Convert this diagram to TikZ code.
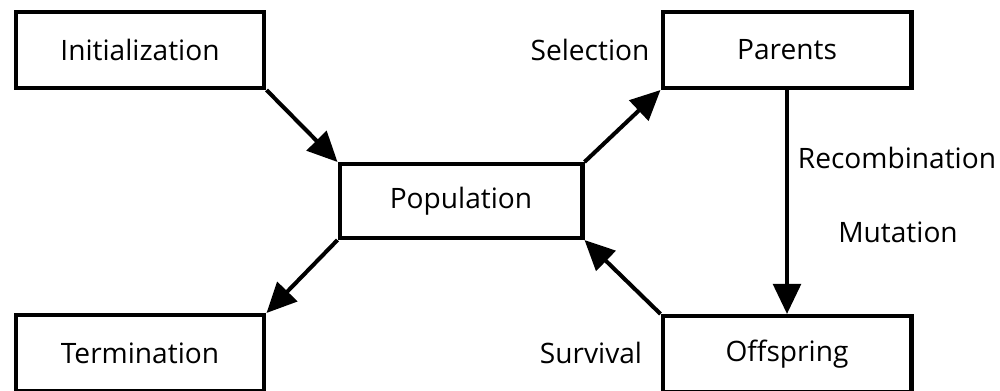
\documentclass[tikz,border=0pt]{standalone}
\usepackage{fontspec}
\setmainfont{Open Sans}
\usetikzlibrary{arrows.meta}

\begin{document}
\begin{tikzpicture}[x=0.02cm,y=-0.02cm,
        stage/.style={draw,line width=2.3pt,minimum width=4.98cm,minimum height=1.52cm,font=\fontsize{16}{19}\selectfont},
        op/.style={font=\fontsize{16}{19}\selectfont},
        flow/.style={line width=2.3pt,-{Triangle[length=0.6cm,width=0.55cm]}}]
        \useasboundingbox (0,0) rectangle (1000,391);

        % Boxes
        \node[stage] (init) at (140,50) {Initialization};
        \node[stage] (parents) at (787,50) {Parents};
        \node[stage,minimum width=4.86cm,minimum height=1.48cm] (pop) at (461,201) {Population};
        \node[stage] (term) at (140,353) {Termination};
        \node[stage] (offspring) at (787,354) {Offspring};

        % Arrows
        \draw[flow] (init.south east) -- (pop.north west);
        \draw[flow] (pop.north east) -- (parents.south west);
        \draw[flow] (parents.south) -- (offspring.north);
        \draw[flow] (offspring.north west) -- (pop.south east);
        \draw[flow] (pop.south west) -- (term.north east);

        % Operators
        \node[op] (sel) at (590,50) {Selection};
        \node[op] (rec) at (897,158) {Recombination};
        \node[op] (mut) at (898,232) {Mutation};
        \node[op] (surv) at (591,353) {Survival};
    \end{tikzpicture}
\end{document}
